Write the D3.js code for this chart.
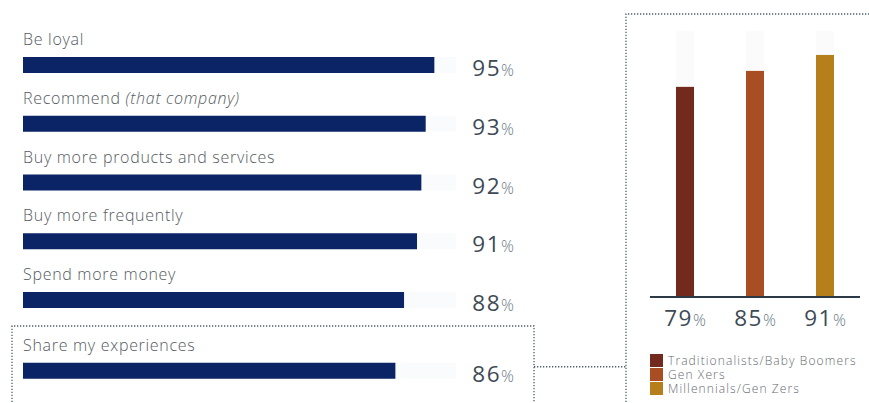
<!DOCTYPE html>
<html>
<head>
<meta charset="utf-8">
<script src="https://cdn.jsdelivr.net/npm/d3@7"></script>
<style>
  html, body { margin: 0; padding: 0; background: #fff; }
  svg { display: block; font-family: "Open Sans", Lato, sans-serif; font-weight: 300; }
</style>
</head>
<body>
<svg id="chart" width="869" height="403"></svg>
<script>
// Share of customers who say they will act on a good experience
const actions = [
  "Be loyal",
  "Recommend",
  "Buy more products and services",
  "Buy more frequently",
  "Spend more money",
  "Share my experiences"
];
const actionNotes = ["", "(that company)", "", "", "", ""];
const actionValues = [95, 93, 92, 91, 88, 86];

// "Share my experiences" broken down by generation
const generations = ["Traditionalists/Baby Boomers", "Gen Xers", "Millennials/Gen Zers"];
const generationValues = [79, 85, 91];
const generationColors = ["#722a1e", "#a94e22", "#b67f1c"];

const navy = "#0b2466";
const dotted = { stroke: "#4d5d68", width: 1.3, dash: "1.3 1.7" };

const svg = d3.select("#chart");

// ---- left: horizontal bars ----
const x = d3.scaleLinear().domain([0, 100]).range([23, 456]);
const rowStep = 58.75;
const highlightGap = 12;
const barH = 16;
const y = d3.scaleLinear().domain([0, 1]).range([57, 57 + rowStep]);
const rowTop = i => y(i) + (i === actions.length - 1 ? highlightGap : 0);

// dotted frame around the highlighted row
const box = { x0: 12, x1: 534, y0: 326 };
svg.append("path")
  .attr("d", `M${box.x0},420 V${box.y0} H${box.x1} V420`)
  .attr("fill", "none")
  .attr("stroke", dotted.stroke)
  .attr("stroke-width", dotted.width)
  .attr("stroke-dasharray", dotted.dash);

const rows = svg.append("g").selectAll("g")
  .data(actions.map((a, i) => ({ label: a, note: actionNotes[i], value: actionValues[i], i })))
  .join("g");

rows.append("rect")
  .attr("x", x(0)).attr("y", d => rowTop(d.i))
  .attr("width", x(100) - x(0)).attr("height", barH)
  .attr("fill", "#fafbfc");

rows.append("rect")
  .attr("x", x(0)).attr("y", d => rowTop(d.i))
  .attr("width", d => x(d.value) - x(0)).attr("height", barH)
  .attr("fill", navy);

const lbl = rows.append("text")
  .attr("x", x(0)).attr("y", d => rowTop(d.i) - 12)
  .attr("font-size", 16).attr("letter-spacing", 0.7).attr("fill", "#555a61");
lbl.append("tspan").text(d => d.label);
lbl.append("tspan").attr("font-style", "italic").text(d => d.note ? " " + d.note : "");

const val = rows.append("text")
  .attr("x", 514).attr("y", d => rowTop(d.i) + barH + 3)
  .attr("text-anchor", "end");
val.append("tspan").attr("font-size", 22.5).attr("font-weight", 400).attr("letter-spacing", 1.5)
  .attr("fill", "#3d4a55").text(d => d.value);
val.append("tspan").attr("font-size", 16).attr("fill", "#6b7a86").text("%");

// ---- connector and right panel frame ----
const panel = { x0: 626, y0: 14 };
const connectY = rowTop(actions.length - 1) + 4;
svg.append("path")
  .attr("d", `M${box.x1},${connectY} H${panel.x0}`)
  .attr("fill", "none")
  .attr("stroke", dotted.stroke).attr("stroke-width", dotted.width)
  .attr("stroke-dasharray", dotted.dash);
svg.append("path")
  .attr("d", `M${panel.x0},420 V${panel.y0} H880`)
  .attr("fill", "none")
  .attr("stroke", dotted.stroke).attr("stroke-width", dotted.width)
  .attr("stroke-dasharray", dotted.dash);

// ---- right: vertical bars by generation ----
const gx = d3.scalePoint().domain(generations).range([650, 860]).padding(0.5);
const gy = d3.scaleLinear().domain([0, 100]).range([297, 31]);
const colW = 18;

const cols = svg.append("g").selectAll("g")
  .data(generations.map((g, i) => ({ g, v: generationValues[i], c: generationColors[i] })))
  .join("g");

cols.append("rect")
  .attr("x", d => gx(d.g) - colW / 2).attr("y", gy(100))
  .attr("width", colW).attr("height", gy(0) - gy(100))
  .attr("fill", "#fbfbfb");

cols.append("rect")
  .attr("x", d => gx(d.g) - colW / 2).attr("y", d => gy(d.v))
  .attr("width", colW).attr("height", d => gy(0) - gy(d.v))
  .attr("fill", d => d.c);

svg.append("line")
  .attr("x1", 650).attr("x2", 860)
  .attr("y1", gy(0)).attr("y2", gy(0))
  .attr("stroke", "#2c3a48").attr("stroke-width", 2);

const gv = cols.append("text")
  .attr("x", d => gx(d.g)).attr("y", 326)
  .attr("text-anchor", "middle");
gv.append("tspan").attr("font-size", 22.5).attr("font-weight", 400).attr("letter-spacing", 1.5)
  .attr("fill", "#3d4a55").text(d => d.v);
gv.append("tspan").attr("font-size", 16).attr("fill", "#6b7a86").text("%");

// legend
const legend = svg.append("g").selectAll("g")
  .data(generations.map((g, i) => ({ g, c: generationColors[i], i })))
  .join("g")
  .attr("transform", d => `translate(650,${354 + d.i * 14})`);
legend.append("rect").attr("width", 13).attr("height", 13).attr("fill", d => d.c);
legend.append("text")
  .attr("x", 18).attr("y", 11)
  .attr("font-size", 12).attr("letter-spacing", 1.1).attr("fill", "#666a70")
  .text(d => d.g);
</script>
</body>
</html>
